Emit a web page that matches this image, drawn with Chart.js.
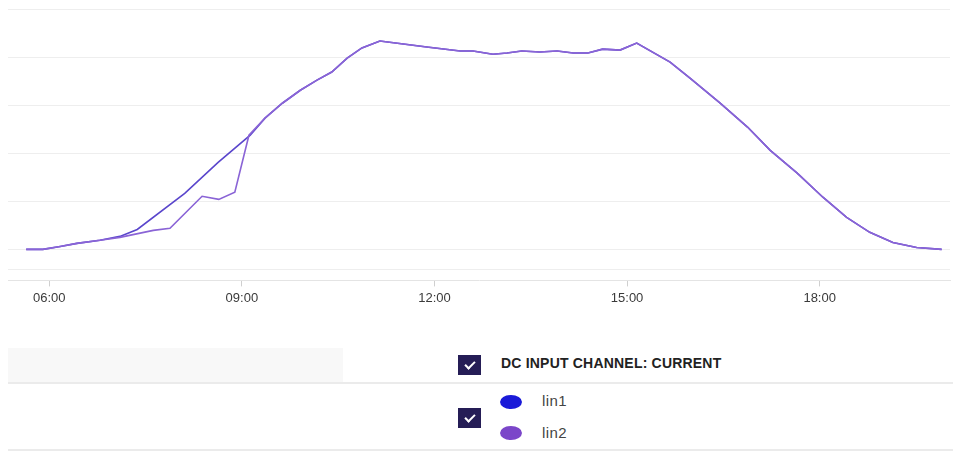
<!DOCTYPE html>
<html>
<head>
<meta charset="utf-8">
<script src="https://cdn.jsdelivr.net/npm/chart.js@4"></script>
<style>
  body { margin: 0; background: #fff; font-family: "Liberation Sans", Arial, sans-serif; }
  #wrap { position: relative; width: 953px; height: 452px; }
  #chartBox { position: absolute; left: 0; top: 0; width: 953px; height: 316px; }
  .greyBox { position: absolute; left: 8px; top: 348px; width: 335px; height: 35px; background: #f8f8f8; }
  .hline { position: absolute; left: 8px; width: 945px; height: 2px; background: #ebebeb; }
  .check { position: absolute; left: 458px; width: 23px; height: 20px; background: #251d56; }
  .check::after { content: ""; position: absolute; left: 9px; top: 4px; width: 4px; height: 8px;
    border-right: 2px solid #fff; border-bottom: 2px solid #fff; transform: rotate(45deg); }
  .title { position: absolute; left: 501px; top: 355px; font-size: 14px; font-weight: bold;
    color: #222; letter-spacing: 0.2px; line-height: 16px; }
  .dot { position: absolute; left: 500px; width: 22px; height: 14px; border-radius: 50%; }
  .lbl { position: absolute; left: 542px; font-size: 15px; color: #444; letter-spacing: 0.4px; line-height: 16px; }
</style>
</head>
<body>
<div id="wrap">
  <div id="chartBox"><canvas id="currentChart"></canvas></div>
  <div class="greyBox"></div>
  <div class="hline" style="top:382px"></div>
  <div class="hline" style="top:449px"></div>
  <div class="check" style="top:355px"></div>
  <div class="title">DC INPUT CHANNEL: CURRENT</div>
  <div class="check" style="top:408px"></div>
  <div class="dot" style="top:395px; background:#1a1ad8"></div>
  <div class="lbl" style="top:393px">lin1</div>
  <div class="dot" style="top:426px; background:#7b46c9"></div>
  <div class="lbl" style="top:425px">lin2</div>
</div>
<script>
// data (jam desimal, arus A)
const lin1Hours = [5.64, 5.90, 6.17, 6.43, 6.79, 7.10, 7.37, 8.11, 8.63, 9.13, 9.36, 9.63, 9.91,
  10.17, 10.40, 10.64, 10.87, 11.15, 11.88, 12.40, 12.60, 12.91, 13.13, 13.36, 13.64, 13.91,
  14.16, 14.39, 14.62, 14.89, 15.15, 15.67, 15.98, 16.45, 16.88, 17.23, 17.65, 18.05, 18.42,
  18.78, 19.14, 19.51, 19.90];
const lin1Values = [0, 0, 0.12, 0.25, 0.38, 0.54, 0.83, 2.33, 3.62, 4.75, 5.46, 6.08, 6.62,
  7.04, 7.38, 7.96, 8.38, 8.67, 8.42, 8.25, 8.25, 8.12, 8.17, 8.25, 8.21, 8.25,
  8.17, 8.17, 8.33, 8.29, 8.58, 7.79, 7.12, 6.08, 5.08, 4.12, 3.17, 2.17, 1.33,
  0.71, 0.29, 0.08, 0];

const lin2Hours = [5.64, 5.90, 6.17, 6.43, 6.79, 7.10, 7.62, 7.88, 8.38, 8.64, 8.89, 9.11, 9.36,
  9.63, 9.91, 10.17, 10.40, 10.64, 10.87, 11.15, 11.88, 12.40, 12.60, 12.91, 13.13, 13.36,
  13.64, 13.91, 14.16, 14.39, 14.62, 14.89, 15.15, 15.67, 15.98, 16.45, 16.88, 17.23, 17.65,
  18.05, 18.42, 18.78, 19.14, 19.51, 19.90];
const lin2Values = [0, 0, 0.12, 0.25, 0.38, 0.50, 0.79, 0.88, 2.21, 2.08, 2.38, 4.75, 5.46,
  6.08, 6.62, 7.04, 7.38, 7.96, 8.38, 8.67, 8.42, 8.25, 8.25, 8.12, 8.17, 8.25,
  8.21, 8.25, 8.17, 8.17, 8.33, 8.29, 8.58, 7.79, 7.12, 6.08, 5.08, 4.12, 3.17,
  2.17, 1.33, 0.71, 0.29, 0.08, 0];

const xTickHours = [6, 9, 12, 15, 18];
const yGridValues = [-0.83, 0, 2, 4, 6, 8, 10];

function toPoints(hours, values) {
  return hours.map((h, i) => ({ x: h, y: values[i] }));
}

const ctx = document.getElementById('currentChart').getContext('2d');
new Chart(ctx, {
  type: 'line',
  data: {
    datasets: [{
      label: 'lin2',
      data: toPoints(lin2Hours, lin2Values),
      borderColor: '#8a64d6',
      borderWidth: 1.6,
      pointRadius: 0,
      tension: 0
    }, {
      label: 'lin1',
      data: toPoints(lin1Hours, lin1Values),
      borderColor: '#5a46cc',
      borderWidth: 1.6,
      pointRadius: 0,
      tension: 0
    }]
  },
  options: {
    responsive: true,
    maintainAspectRatio: false,
    animation: false,
    layout: { padding: { left: 8, right: 3, top: 9, bottom: 6 } },
    plugins: { legend: { display: false }, tooltip: { enabled: false } },
    scales: {
      x: {
        type: 'linear',
        min: 5.357,
        max: 20.03,
        afterBuildTicks: scale => { scale.ticks = xTickHours.map(v => ({ value: v })); },
        grid: { drawOnChartArea: false, tickLength: 6, color: '#cfcfcf' },
        border: { display: true, color: '#e4e4e4', width: 1 },
        ticks: {
          padding: 4,
          color: '#3a3a3a',
          font: { family: 'Liberation Sans', size: 13 },
          callback: v => String(v).padStart(2, '0') + ':00'
        }
      },
      y: {
        min: -1.29,
        max: 10,
        afterBuildTicks: scale => { scale.ticks = yGridValues.map(v => ({ value: v })); },
        grid: { color: '#eeeeee', drawTicks: false },
        border: { display: false },
        ticks: { display: false }
      }
    }
  }
});
</script>
</body>
</html>
